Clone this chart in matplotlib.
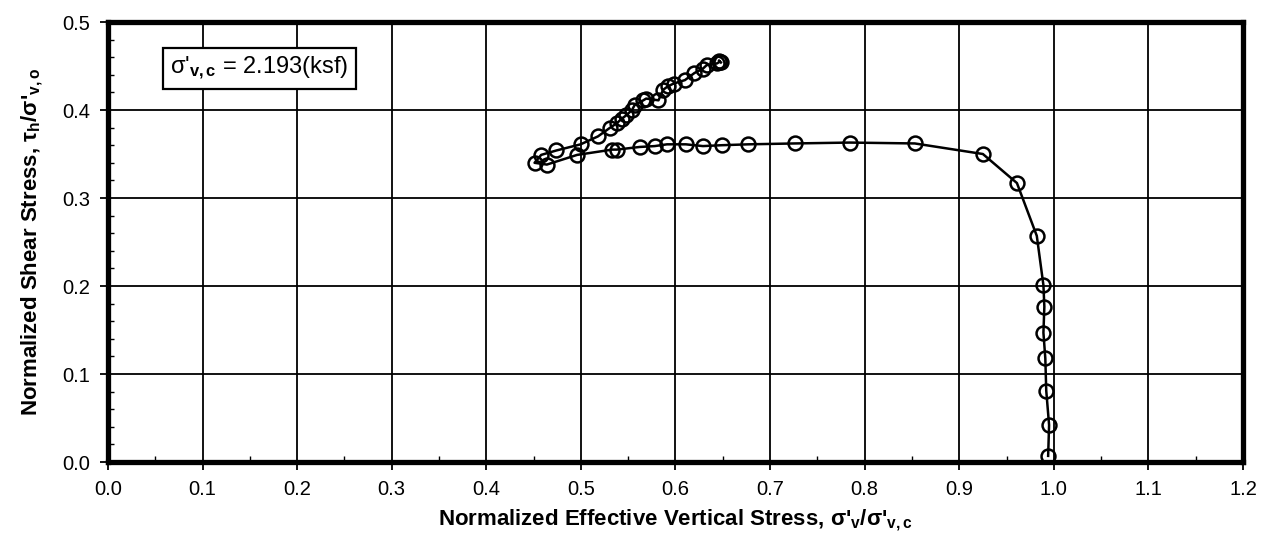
import numpy as np
import matplotlib.pyplot as plt
from matplotlib.ticker import MultipleLocator, FormatStrFormatter

plt.rcParams['font.family'] = ['Liberation Sans', 'DejaVu Sans']
plt.rcParams['mathtext.fontset'] = 'custom'
plt.rcParams['mathtext.rm'] = 'Liberation Sans'
plt.rcParams['mathtext.it'] = 'Liberation Sans:italic'
plt.rcParams['mathtext.bf'] = 'Liberation Sans:bold'

# stress path, in test order (from the start at the bottom right)
sigma_v = [0.994, 0.995, 0.992, 0.991, 0.989, 0.990, 0.989, 0.982, 0.961, 0.925,
           0.853, 0.784, 0.726, 0.677, 0.649, 0.629, 0.611, 0.591, 0.578, 0.562,
           0.538, 0.533, 0.496, 0.464, 0.451, 0.458, 0.474, 0.4997, 0.518, 0.531,
           0.538, 0.543, 0.548, 0.554, 0.557, 0.566, 0.569, 0.582, 0.587, 0.592,
           0.598, 0.610, 0.620, 0.629, 0.633, 0.644, 0.647, 0.646, 0.648]
tau_h = [0.007, 0.042, 0.081, 0.118, 0.147, 0.1765, 0.201, 0.257, 0.317, 0.350,
         0.362, 0.363, 0.362, 0.361, 0.360, 0.359, 0.361, 0.361, 0.359, 0.358,
         0.355, 0.355, 0.349, 0.338, 0.340, 0.349, 0.354, 0.361, 0.370, 0.380,
         0.385, 0.390, 0.394, 0.400, 0.406, 0.411, 0.413, 0.411, 0.423, 0.427,
         0.430, 0.434, 0.442, 0.447, 0.451, 0.453, 0.455, 0.456, 0.454]

fig = plt.figure(figsize=(12.69, 5.46), dpi=100)
ax = fig.add_axes([0.0851, 0.1538, 0.8944, 0.8059])

ax.plot(sigma_v, tau_h, color='black', linewidth=1.8, marker='o', markersize=10,
        markerfacecolor='none', markeredgecolor='black', markeredgewidth=1.8, zorder=3)

ax.set_xlim(0.0, 1.2)
ax.set_ylim(0.0, 0.5)
ax.xaxis.set_major_locator(MultipleLocator(0.1))
ax.xaxis.set_minor_locator(MultipleLocator(0.05))
ax.yaxis.set_major_locator(MultipleLocator(0.1))
ax.yaxis.set_minor_locator(MultipleLocator(0.02))
ax.xaxis.set_major_formatter(FormatStrFormatter('%.1f'))
ax.yaxis.set_major_formatter(FormatStrFormatter('%.1f'))

ax.grid(True, which='major', color='black', linewidth=1.3)
for s in ax.spines.values():
    s.set_linewidth(3.8)
ax.tick_params(which='major', direction='out', length=6, width=1.3, labelsize=14.5, pad=7)
ax.tick_params(which='minor', direction='in', length=4, width=1.0)

ax.set_xlabel("Normalized Effective Vertical Stress, σ'$_{\\mathbf{v}}$/σ'$_{\\mathbf{v,c}}$",
              fontsize=16, fontweight='bold', labelpad=6)
ax.set_ylabel("Normalized Shear Stress, τ$_{\\mathbf{h}}$/σ'$_{\\mathbf{v,o}}$",
              fontsize=16, fontweight='bold', labelpad=12)

ax.text(0.055, 0.895, "σ'$_{\\mathbf{v,c}}$ = 2.193(ksf)", transform=ax.transAxes,
        fontsize=17, va='center', ha='left',
        bbox=dict(boxstyle='square,pad=0.3', facecolor='white', edgecolor='black', linewidth=1.6),
        zorder=5)

fig.savefig('out.png', dpi=100)
